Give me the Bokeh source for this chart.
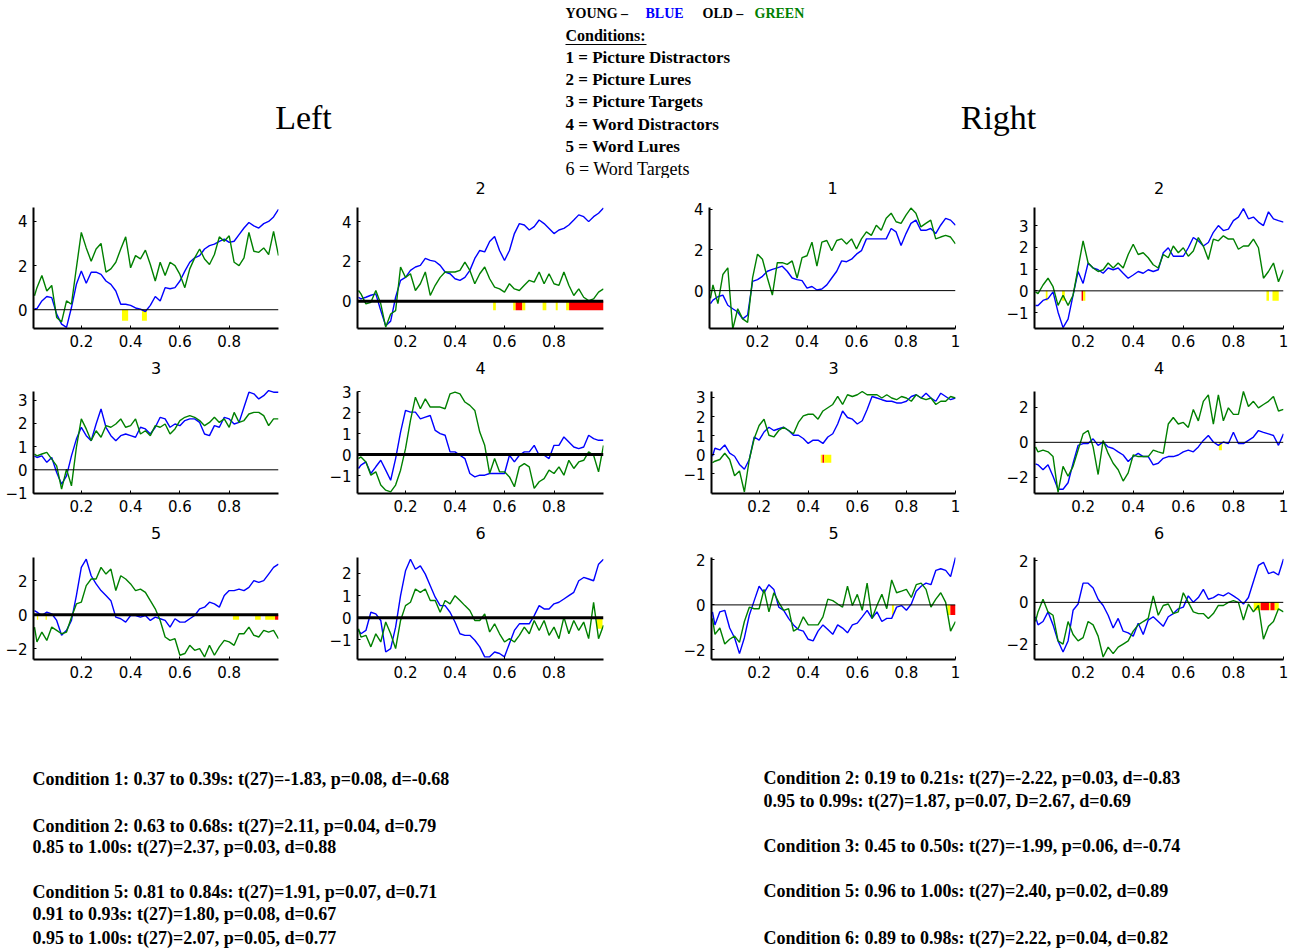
import numpy as np
from bokeh.plotting import figure
from bokeh.models import Range1d, FixedTicker, Span, Label
from bokeh.layouts import column, row
from bokeh.embed import file_html
from bokeh.resources import INLINE

# ---------------- data ----------------
# time axis (s): first sample then every 20 ms
TIME = [0.01] + [round(0.02 * k, 2) for k in range(1, 51)]

L1_BLUE = [0.05, 0.05, 0.4, 0.6, 0.55, -0.2, -0.65, -0.8, 0.1, 1.15, 1.75, 1.2, 1.7, 1.7, 1.6, 1.3, 1.15, 0.85, 0.25, 0.25, 0.2, 0.08, 0.03, -0.08, 0.2, 0.6, 0.4, 1.0, 0.95, 1.0, 1.3, 1.75, 2.15, 2.35, 2.45, 2.75, 2.9, 2.97, 3.1, 3.2, 3.05, 3.1, 3.4, 3.7, 3.95, 3.8, 3.7, 3.9, 4.0, 4.2, 4.55]
L1_GREEN = [0.63, 1.0, 1.55, 0.85, 1.1, -0.35, -0.55, 0.4, 0.25, 1.9, 3.5, 2.8, 2.2, 2.75, 3.0, 1.7, 1.85, 2.15, 2.75, 3.3, 1.9, 2.45, 2.3, 2.7, 2.05, 1.3, 2.15, 1.55, 2.15, 2.0, 1.6, 1.0, 1.85, 2.35, 2.75, 2.3, 2.05, 2.5, 3.3, 3.1, 3.35, 2.15, 2.0, 2.35, 3.5, 2.65, 2.6, 2.8, 2.5, 3.55, 2.45]
L2_BLUE = [0.2, 0.12, 0.2, 0.3, 0.37, -0.47, -1.23, -1.0, 0.2, 1.05, 1.2, 1.55, 1.72, 1.8, 2.15, 2.05, 2.0, 1.8, 1.47, 1.38, 1.13, 1.05, 1.2, 1.55, 2.15, 2.55, 2.48, 3.0, 3.25, 2.55, 2.05, 2.55, 3.4, 3.9, 3.83, 3.58, 3.75, 4.08, 3.9, 3.66, 3.4, 3.58, 3.66, 3.83, 4.08, 4.34, 4.25, 4.0, 4.25, 4.42, 4.68]
L2_GREEN = [0.54, 0.37, -0.13, -0.05, 0.54, -0.13, -1.3, -0.64, -0.47, 1.72, 1.2, 1.38, 0.54, 0.88, 1.47, 0.29, 0.8, 1.2, 1.47, 1.47, 1.47, 1.55, 1.97, 1.55, 0.88, 1.38, 1.72, 1.13, 0.71, 0.62, 0.46, 0.88, 0.62, 0.54, 0.8, 1.05, 0.96, 1.47, 0.88, 1.38, 0.88, 0.8, 1.47, 0.8, 0.29, 0.62, 0.2, 0.03, 0.12, 0.46, 0.62]
L3_BLUE = [0.6, 0.53, 0.6, 0.32, 0.53, -0.12, -0.62, -0.26, 0.6, 1.32, 1.83, 1.47, 1.25, 1.97, 2.62, 1.83, 1.47, 1.25, 1.47, 1.54, 1.47, 1.4, 1.83, 1.76, 1.54, 1.83, 2.26, 2.19, 1.83, 1.97, 1.9, 2.12, 2.19, 2.19, 2.04, 1.54, 1.47, 1.9, 1.83, 2.26, 2.19, 1.97, 2.04, 2.69, 3.34, 3.27, 3.05, 3.19, 3.41, 3.34, 3.34]
L3_GREEN = [0.68, 0.6, 0.68, 0.75, 0.46, 0.17, -0.83, 0.03, -0.69, 0.96, 2.19, 1.76, 1.25, 1.68, 1.4, 1.9, 1.83, 1.97, 2.19, 1.83, 1.9, 2.19, 1.54, 1.68, 1.47, 1.9, 1.83, 1.97, 1.54, 1.76, 2.12, 2.26, 2.33, 2.26, 2.12, 1.9, 2.04, 2.26, 2.04, 2.19, 1.83, 2.47, 2.04, 2.12, 2.4, 2.47, 2.47, 2.33, 1.9, 2.19, 2.19]
L4_BLUE = [-0.66, -0.5, -0.35, -0.9, -0.58, -0.27, -0.74, -1.22, -0.19, 1.07, 2.1, 2.02, 2.02, 1.7, 1.78, 1.86, 1.15, 1.0, 0.92, 0.13, 0.13, -0.03, -0.19, -0.9, -1.06, -0.98, -0.98, -0.9, -0.9, -0.9, -0.9, -0.03, -0.35, -0.03, 0.13, 0.13, 0.44, -0.03, -0.03, -0.19, 0.44, 0.44, 0.84, 0.6, 0.36, 0.28, 0.36, 0.92, 0.76, 0.68, 0.68]
L4_GREEN = [-0.19, -0.11, -0.35, -0.98, -0.82, -1.45, -1.69, -1.77, -1.45, -0.74, 0.28, 1.63, 2.73, 2.18, 2.65, 2.26, 2.26, 2.26, 2.18, 2.89, 2.97, 2.89, 2.5, 2.34, 2.1, 1.07, 0.44, -0.9, -0.19, -0.82, -0.82, -1.06, -1.53, -0.58, -0.43, -0.58, -1.61, -1.29, -1.14, -0.74, -0.9, -0.58, -0.98, -0.27, -0.66, -0.35, -0.27, 0.13, -0.03, -0.82, 0.44]
L5_BLUE = [0.25, 0.16, -0.04, 0.16, 0.06, -0.33, -1.2, -0.91, -0.33, 1.13, 2.78, 3.26, 2.29, 1.81, 1.42, 1.13, 0.83, -0.14, -0.23, -0.43, -0.04, -0.04, -0.14, -0.04, -0.33, -0.14, -0.23, -0.33, -0.72, -0.23, -0.43, -0.43, -0.23, -0.04, 0.35, 0.45, 0.74, 0.64, 0.45, 1.13, 1.42, 1.42, 1.51, 1.42, 1.61, 2.0, 1.9, 2.0, 2.39, 2.78, 2.97]
L5_GREEN = [-0.72, -1.59, -1.01, -1.5, -0.72, -0.91, -1.11, -1.01, -0.14, 0.64, 0.74, 1.71, 2.1, 2.1, 2.78, 2.39, 2.68, 1.42, 2.29, 2.1, 1.81, 1.42, 1.51, 1.32, 0.83, 0.35, -0.33, -1.3, -1.5, -1.4, -2.37, -2.27, -1.79, -2.08, -1.98, -2.47, -1.79, -2.37, -1.88, -1.5, -1.59, -1.79, -1.11, -1.11, -0.72, -1.2, -1.3, -0.91, -1.01, -0.91, -1.4]
L6_BLUE = [-0.57, -0.72, -0.57, 0.25, 0.18, -0.12, -1.54, -1.39, -0.42, 1.0, 2.12, 2.64, 2.19, 2.34, 1.97, 1.45, 0.93, 0.55, 0.55, 0.25, -0.19, -0.72, -0.79, -0.79, -1.01, -1.31, -1.76, -1.76, -1.54, -1.61, -1.76, -1.16, -0.57, -0.27, -0.27, -0.27, 0.1, 0.55, 0.4, 0.4, 0.63, 0.7, 0.85, 1.0, 1.15, 1.67, 1.82, 1.75, 1.67, 2.42, 2.64]
L6_GREEN = [-0.49, -0.87, -0.79, -1.31, -0.72, -1.09, -0.19, -0.72, -1.39, -0.12, 0.55, 0.7, 1.3, 1.15, 1.3, 0.78, 0.78, 0.25, 0.78, 0.63, 1.0, 0.78, 0.55, 0.33, -0.12, -0.12, 0.18, -0.64, -0.27, -0.72, -1.09, -0.94, -1.09, -0.79, -0.42, -0.72, -0.12, -0.57, -0.12, -0.79, -0.42, -0.94, 0.03, -0.72, -0.12, -0.57, -0.19, -0.94, 0.7, -0.94, -0.34]

R1_BLUE = [-0.64, -0.47, -0.3, -0.22, -0.72, -0.89, -1.05, -1.39, -1.2, 0.45, 0.54, 0.7, 0.95, 1.04, 1.12, 1.2, 0.95, 0.62, 0.54, 0.49, 0.12, 0.2, 0.03, 0.08, 0.28, 0.62, 0.95, 1.46, 1.42, 1.54, 1.79, 1.96, 2.54, 2.54, 2.54, 2.54, 2.54, 3.05, 2.88, 2.21, 2.8, 3.3, 3.46, 2.96, 2.96, 3.05, 2.8, 3.21, 3.55, 3.46, 3.21]
R1_GREEN = [-0.38, 0.28, -0.64, 0.79, 1.12, -1.89, -0.89, -1.39, -1.56, 0.62, 1.79, 1.54, 0.62, -0.22, 1.37, 1.37, 1.29, 1.46, 0.62, 1.62, 1.71, 2.38, 1.2, 2.38, 2.46, 1.96, 2.46, 2.54, 2.29, 2.54, 2.04, 2.54, 2.88, 2.71, 3.21, 2.96, 3.55, 3.8, 3.38, 3.3, 3.71, 4.05, 3.8, 3.13, 3.3, 3.46, 2.54, 2.63, 2.71, 2.63, 2.29]
R2_BLUE = [-0.67, -0.67, -0.44, -0.36, -0.05, -0.98, -1.69, -1.3, -0.2, 0.89, 0.34, 1.28, 1.05, 0.97, 0.81, 1.05, 0.97, 1.05, 0.81, 0.58, 0.73, 0.89, 0.81, 0.97, 0.89, 0.97, 1.75, 1.98, 1.59, 1.59, 1.59, 1.98, 2.45, 2.3, 2.06, 2.22, 2.69, 3.0, 2.77, 2.84, 3.23, 3.39, 3.78, 3.31, 3.39, 3.16, 3.0, 3.63, 3.31, 3.23, 3.16]
R2_GREEN = [-0.05, -0.13, 0.27, 0.58, 0.19, -0.67, -0.2, -0.67, -0.2, 1.05, 2.3, 1.28, 1.05, 0.89, 0.97, 1.28, 1.05, 1.28, 1.05, 1.67, 2.14, 1.67, 1.75, 1.52, 1.2, 1.05, 1.67, 1.52, 2.06, 1.75, 1.98, 1.59, 1.83, 2.45, 2.06, 1.44, 2.38, 2.3, 2.53, 2.38, 2.38, 1.91, 2.06, 2.06, 2.38, 1.98, 0.58, 0.89, 1.28, 0.42, 0.97]
R3_BLUE = [-0.08, 0.34, 0.25, 0.51, 0.08, -0.08, -0.51, -0.76, -0.25, 0.93, 0.76, 1.19, 1.44, 1.27, 1.36, 1.44, 1.27, 1.02, 1.02, 0.85, 0.59, 0.76, 0.76, 0.59, 0.93, 1.1, 1.61, 2.29, 1.95, 1.86, 1.61, 1.78, 2.37, 3.05, 2.97, 2.88, 2.8, 2.8, 2.71, 2.71, 2.8, 3.05, 3.14, 2.97, 3.22, 2.97, 2.8, 3.22, 3.05, 2.88, 2.97]
R3_GREEN = [-0.42, -0.34, -0.25, 0.08, -0.25, -1.1, -0.85, -1.95, -0.25, 0.85, 1.53, 1.86, 1.02, 0.93, 1.27, 1.44, 1.27, 1.1, 1.69, 2.03, 2.12, 2.12, 1.86, 2.29, 2.46, 2.63, 3.05, 2.63, 3.14, 3.05, 3.14, 3.31, 3.14, 3.14, 3.14, 2.97, 3.14, 2.97, 2.88, 3.05, 2.97, 2.8, 3.14, 2.97, 2.88, 2.97, 2.63, 2.8, 2.8, 3.05, 2.97]
R4_BLUE = [-1.22, -1.28, -1.56, -1.28, -1.93, -2.67, -2.67, -2.3, -1.19, -0.17, -0.07, -0.07, 0.2, -0.17, 0.02, -0.26, -0.35, -0.54, -0.72, -1.09, -0.81, -0.63, -0.81, -0.81, -1.28, -1.19, -0.91, -0.81, -0.81, -0.72, -0.54, -0.44, -0.54, -0.26, 0.11, 0.39, 0.02, -0.17, 0.02, -0.07, 0.57, -0.07, -0.07, 0.11, 0.3, 0.67, 0.57, 0.48, 0.39, -0.17, 0.48]
R4_GREEN = [-0.26, -0.54, -0.44, -0.54, -0.81, -2.85, -1.37, -1.93, -1.37, -0.44, 0.48, 0.67, -0.26, -1.83, 0.11, -0.63, -1.19, -1.56, -2.2, -1.74, -0.72, -0.81, -0.81, -0.81, -0.44, -0.54, -0.63, 1.04, 1.41, 1.04, 1.13, 0.85, 1.87, 1.22, 2.33, 2.7, 1.04, 2.7, 1.22, 1.96, 1.59, 1.59, 2.89, 2.04, 2.33, 1.96, 2.15, 2.33, 2.61, 1.78, 1.87]
R5_BLUE = [-0.31, -0.89, -0.31, -0.24, -1.03, -1.46, -2.17, -1.46, -0.46, 0.19, 0.83, 0.54, 0.9, 0.69, -0.1, -0.24, -0.6, -0.89, -1.1, -1.17, -1.53, -1.6, -1.17, -0.89, -1.1, -1.31, -0.89, -1.03, -1.24, -0.89, -0.81, -0.53, -0.24, -0.6, -0.31, -0.74, -0.6, -0.6, -0.1, -0.03, -0.24, 0.04, 0.61, 0.83, 0.97, 0.9, 1.54, 1.61, 1.54, 1.26, 2.11]
R5_GREEN = [-0.6, -1.31, -1.03, -1.74, -1.53, -1.39, -1.67, -0.74, -0.1, -0.17, -0.17, 0.69, -0.31, 0.54, 0.11, -0.24, -0.17, -1.17, -1.03, -0.53, -0.89, -0.89, -0.89, -0.53, 0.26, 0.19, 0.04, -0.1, 0.83, -0.03, 0.47, -0.24, 0.97, -0.6, -0.03, 0.47, -0.17, 1.11, 0.54, 0.61, 0.69, 0.33, 0.9, 0.97, 0.69, -0.1, 0.26, 0.54, 0.11, -1.17, -0.74]
R6_BLUE = [-0.69, -1.08, -0.92, -0.46, -1.08, -1.85, -2.38, -1.85, -0.38, -0.08, 0.92, 0.92, 0.69, 0.15, -0.15, -0.62, -1.23, -0.77, -1.38, -1.46, -1.62, -1.0, -1.54, -0.85, -0.69, -0.92, -1.15, -0.69, -0.54, -0.31, -0.23, 0.31, 0.0, 0.23, 0.62, 0.15, 0.23, 0.38, 0.31, 0.46, 0.31, 0.15, -0.08, 0.23, 1.0, 1.77, 1.92, 1.38, 1.46, 1.31, 2.08]
R6_GREEN = [-0.92, -0.46, 0.15, -0.46, -0.62, -1.85, -2.0, -0.92, -1.54, -1.85, -1.69, -0.92, -1.08, -1.62, -2.62, -2.15, -2.46, -2.15, -2.0, -1.85, -1.38, -1.08, -0.92, -0.77, 0.31, -0.62, -0.15, -0.08, -0.54, -0.46, 0.46, 0.0, -0.46, -0.54, -0.54, -0.77, -0.54, -0.15, -0.15, 0.0, 0.08, 0.0, -0.85, -0.08, -0.46, -0.15, -1.77, -1.15, -0.92, -0.31, -0.46]

# significance windows (start s, end s, level: "t" trend p<.10, "s" p<.05)
L1_SIG_START = [0.365, 0.446]
L1_SIG_END = [0.39, 0.466]
L1_SIG_LEVEL = ["t", "t"]
L2_SIG_START = [0.554, 0.635, 0.645, 0.672, 0.754, 0.807, 0.849, 0.861]
L2_SIG_END = [0.565, 0.645, 0.672, 0.684, 0.769, 0.815, 0.861, 1.0]
L2_SIG_LEVEL = ["t", "t", "s", "t", "t", "t", "t", "s"]
L5_SIG_START = [0.02, 0.055, 0.815, 0.905, 0.946, 0.986]
L5_SIG_END = [0.025, 0.06, 0.84, 0.928, 0.986, 1.0]
L5_SIG_LEVEL = ["t", "t", "t", "t", "t", "s"]
L6_SIG_START = [0.973]
L6_SIG_END = [0.996]
L6_SIG_LEVEL = ["t"]
R2_SIG_START = [0.051, 0.116, 0.194, 0.2, 0.932, 0.956]
R2_SIG_END = [0.058, 0.127, 0.2, 0.209, 0.942, 0.981]
R2_SIG_LEVEL = ["t", "t", "s", "t", "t", "t"]
R3_SIG_START = [0.451, 0.458, 0.465]
R3_SIG_END = [0.458, 0.465, 0.494]
R3_SIG_LEVEL = ["t", "s", "t"]
R4_SIG_START = [0.742]
R4_SIG_END = [0.754]
R4_SIG_LEVEL = ["t"]
R5_SIG_START = [0.741, 0.967, 0.979]
R5_SIG_END = [0.749, 0.979, 1.0]
R5_SIG_LEVEL = ["t", "t", "s"]
R6_SIG_START = [0.881, 0.909, 0.942, 0.948, 0.965]
R6_SIG_END = [0.909, 0.942, 0.948, 0.965, 0.981]
R6_SIG_LEVEL = ["t", "s", "t", "s", "t"]

LEFT_X_TICKS = [0.2, 0.4, 0.6, 0.8]
RIGHT_X_TICKS = [0.2, 0.4, 0.6, 0.8, 1.0]

HEADER_LINES = ["1 = Picture Distractors", "2 = Picture Lures", "3 = Picture Targets",
                "4 = Word Distractors", "5 = Word Lures", "6 = Word Targets"]
FOOTER_LEFT = ["Condition 1: 0.37 to 0.39s: t(27)=-1.83, p=0.08, d=-0.68",
               "Condition 2: 0.63 to 0.68s: t(27)=2.11, p=0.04, d=0.79",
               "0.85 to 1.00s: t(27)=2.37, p=0.03, d=0.88",
               "Condition 5: 0.81 to 0.84s: t(27)=1.91, p=0.07, d=0.71",
               "0.91 to 0.93s: t(27)=1.80, p=0.08, d=0.67",
               "0.95 to 1.00s: t(27)=2.07, p=0.05, d=0.77"]
FOOTER_RIGHT = ["Condition 2: 0.19 to 0.21s: t(27)=-2.22, p=0.03, d=-0.83",
                "0.95 to 0.99s: t(27)=1.87, p=0.07, D=2.67, d=0.69",
                "Condition 3: 0.45 to 0.50s: t(27)=-1.99, p=0.06, d=-0.74",
                "Condition 5: 0.96 to 1.00s: t(27)=2.40, p=0.02, d=0.89",
                "Condition 6: 0.89 to 0.98s: t(27)=2.22, p=0.04, d=0.82"]

# ---------------- styling / layout ----------------
BLUE = "#0000ff"
GREEN = "#008000"
SIG_COLORS = {"t": "#ffff00", "s": "#ff0000"}
SANS = "DejaVu Sans"
SERIF = "Liberation Serif"

# (figure width, border left, border right)
COLS = [(318, 33, 40), (362, 39, 77), (315, 29, 40), (298, 39, 10)]
# (figure height, space above axes, border bottom, title offset above axes)
ROWS = [(177, 29, 27, 20), (165, 36, 27, 24), (170, 37, 31, 25)]
TOP_PAD = 2


def panel(col, rw, title, blue, green, yr, yticks, xticks, zero_w,
          sig=None, sig_px=10):
    w, bl, br = COLS[col]
    h, bt, bb, toff = ROWS[rw]
    ymin, ymax = yr
    axes_h = h - bt - bb
    ppu = axes_h / (ymax - ymin)          # pixels per data unit
    ytop = ymax + (bt - TOP_PAD) / ppu    # room above the axes for the title
    p = figure(width=w, height=h, x_range=Range1d(0.006, 1.0),
               y_range=Range1d(ymin, ytop), toolbar_location=None,
               output_backend="svg", min_border_left=bl, min_border_right=br,
               min_border_top=TOP_PAD, min_border_bottom=bb)
    if title:
        p.add_layout(Label(x=0.503, y=ymax + toff / ppu, text=title,
                           text_align="center", text_baseline="middle",
                           text_font=SANS, text_font_size="16px", text_color="black"))
    p.grid.visible = False
    p.outline_line_color = None
    p.background_fill_color = "white"
    p.border_fill_color = "white"
    p.xaxis.ticker = FixedTicker(ticks=xticks)
    p.xaxis.major_label_overrides = {1.0: "1", 1: "1"}
    p.yaxis.ticker = FixedTicker(ticks=yticks)
    p.yaxis.bounds = (ymin, ymax)
    for ax in (p.xaxis, p.yaxis):
        ax.axis_line_width = 2
        ax.axis_line_color = "black"
        ax.major_tick_in = 3
        ax.major_tick_out = 0
        ax.major_tick_line_color = "black"
        ax.minor_tick_line_color = None
        ax.major_label_text_font = SANS
        ax.major_label_text_font_size = "15px"
        ax.major_label_text_color = "black"
        ax.major_label_standoff = 6
    if sig is not None:
        starts, ends, levels = sig
        depth = sig_px / ppu
        p.quad(left=starts, right=ends, top=[0] * len(starts),
               bottom=[-depth] * len(starts),
               fill_color=[SIG_COLORS[l] for l in levels], line_color=None)
    if zero_w:
        p.add_layout(Span(location=0, dimension="width", line_color="black",
                          line_width=zero_w))
    p.line(TIME, blue, line_color=BLUE, line_width=1.4)
    p.line(TIME, green, line_color=GREEN, line_width=1.4)
    return p


l1 = panel(0, 0, "", L1_BLUE, L1_GREEN, (-0.85, 4.63), [0, 2, 4], LEFT_X_TICKS, 1,
           (L1_SIG_START, L1_SIG_END, L1_SIG_LEVEL), 11)
l2 = panel(1, 0, "2", L2_BLUE, L2_GREEN, (-1.37, 4.71), [0, 2, 4], LEFT_X_TICKS, 3,
           (L2_SIG_START, L2_SIG_END, L2_SIG_LEVEL), 9)
r1 = panel(2, 0, "1", R1_BLUE, R1_GREEN, (-1.86, 4.08), [0, 2, 4], RIGHT_X_TICKS, 1)
r2 = panel(3, 0, "2", R2_BLUE, R2_GREEN, (-1.73, 3.83), [-1, 0, 1, 2, 3], RIGHT_X_TICKS, 1,
           (R2_SIG_START, R2_SIG_END, R2_SIG_LEVEL), 10)
l3 = panel(0, 1, "3", L3_BLUE, L3_GREEN, (-1.02, 3.37), [-1, 0, 1, 2, 3], LEFT_X_TICKS, 1)
l4 = panel(1, 1, "4", L4_BLUE, L4_GREEN, (-1.85, 3.0), [-1, 0, 1, 2, 3], LEFT_X_TICKS, 3)
r3 = panel(2, 1, "3", R3_BLUE, R3_GREEN, (-2.03, 3.31), [-1, 0, 1, 2, 3], RIGHT_X_TICKS, 0,
           (R3_SIG_START, R3_SIG_END, R3_SIG_LEVEL), 8)
r4 = panel(3, 1, "4", R4_BLUE, R4_GREEN, (-2.91, 2.89), [-2, 0, 2], RIGHT_X_TICKS, 1,
           (R4_SIG_START, R4_SIG_END, R4_SIG_LEVEL), 8)
l5 = panel(0, 2, "5", L5_BLUE, L5_GREEN, (-2.62, 3.36), [-2, 0, 2], LEFT_X_TICKS, 3,
           (L5_SIG_START, L5_SIG_END, L5_SIG_LEVEL), 5)
l6 = panel(1, 2, "6", L6_BLUE, L6_GREEN, (-1.88, 2.72), [-1, 0, 1, 2], LEFT_X_TICKS, 3,
           (L6_SIG_START, L6_SIG_END, L6_SIG_LEVEL), 11)
r5 = panel(2, 2, "5", R5_BLUE, R5_GREEN, (-2.43, 2.11), [-2, 0, 2], RIGHT_X_TICKS, 1,
           (R5_SIG_START, R5_SIG_END, R5_SIG_LEVEL), 10)
r6 = panel(3, 2, "6", R6_BLUE, R6_GREEN, (-2.74, 2.15), [-2, 0, 2], RIGHT_X_TICKS, 1,
           (R6_SIG_START, R6_SIG_END, R6_SIG_LEVEL), 8)


def text_canvas(h):
    c = figure(width=1293, height=h, x_range=Range1d(0, 1293), y_range=Range1d(h, 0),
               toolbar_location=None, output_backend="svg", min_border=0,
               x_axis_type=None, y_axis_type=None)
    c.grid.visible = False
    c.outline_line_color = None
    c.border_fill_color = "white"
    return c


header = text_canvas(178)


def hlabel(c, x, y, t, size="15px", style="bold", color="black", font=SERIF, align="left"):
    c.add_layout(Label(x=x, y=y, text=t, text_font=font, text_font_size=size,
                       text_font_style=style, text_color=color, text_baseline="middle",
                       text_align=align))


hlabel(header, 565, 13, "YOUNG \u2013 ", size="14px")
hlabel(header, 645, 13, "BLUE", size="14px", color=BLUE)
hlabel(header, 702, 13, "OLD \u2013 ", size="14px")
hlabel(header, 754, 13, "GREEN", size="14px", color=GREEN)
hlabel(header, 565, 35, "Conditions:", size="16px")
header.line([565, 646], [44, 44], line_color="black", line_width=1.2)
for i, t in enumerate(HEADER_LINES):
    hlabel(header, 565, 57 + 22.2 * i, t, size="17px" if i < 5 else "18px",
           style="bold" if i < 5 else "normal")
hlabel(header, 303, 117, "Left", size="34px", style="normal", align="center")
hlabel(header, 998, 117, "Right", size="34px", style="normal", align="center")

footer = text_canvas(259)
for t, y in zip(FOOTER_LEFT, [88, 135, 156, 201, 223, 247]):
    hlabel(footer, 32, y, t, size="18px")
for t, y in zip(FOOTER_RIGHT, [87, 110, 155, 200, 247]):
    hlabel(footer, 763, y, t, size="18px")

layout = column(header, row(l1, l2, r1, r2), row(l3, l4, r3, r4),
                row(l5, l6, r5, r6), footer)

open("out.html", "w").write(file_html(layout, INLINE))
